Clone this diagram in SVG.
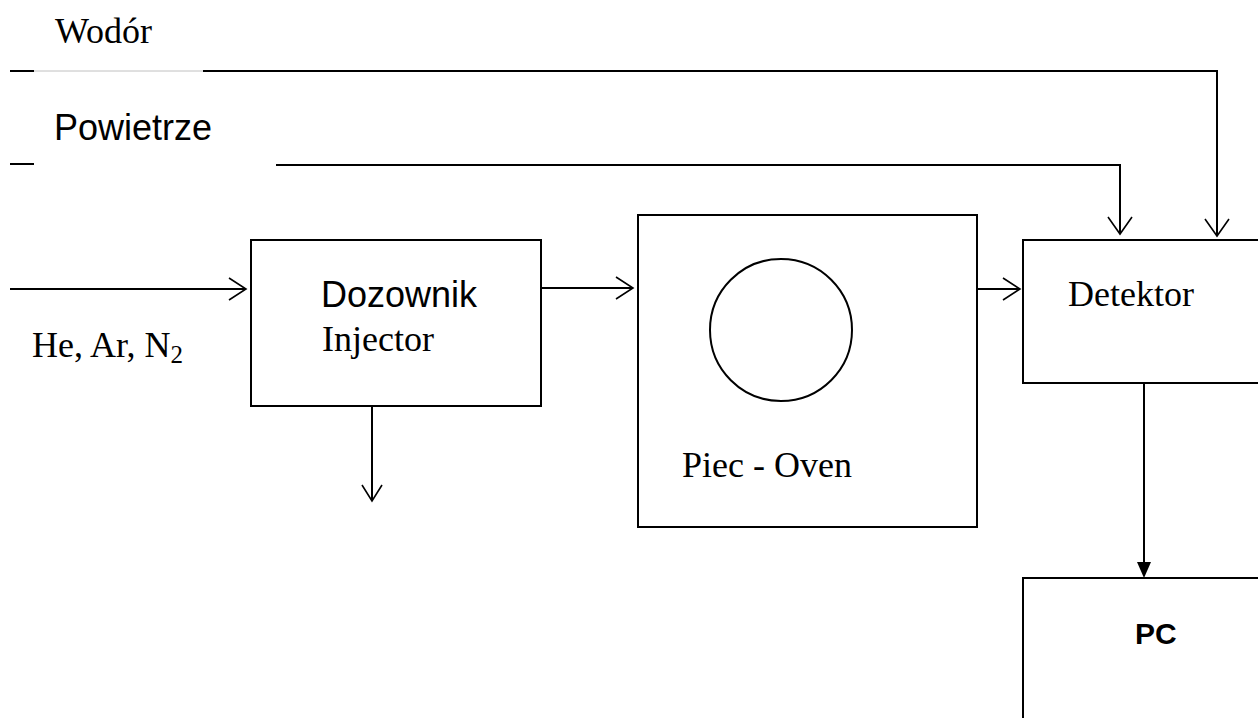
<svg xmlns="http://www.w3.org/2000/svg" width="1258" height="718" viewBox="0 0 1258 718">
<style>
.box{fill:#fff;stroke:#000;stroke-width:2}
.ln{fill:none;stroke:#000;stroke-width:2}
.oh{fill:none;stroke:#000;stroke-width:1.6}
.tr{font-family:"Liberation Serif",serif;font-size:36px;fill:#000}
.ar{font-family:"Liberation Sans",sans-serif;font-size:36px;fill:#000}
</style>
<rect width="1258" height="718" fill="#fff"/>
<g id="labels">
<text class="tr" x="55" y="43">Wodór</text>
<text class="ar" x="54" y="140">Powietrze</text>
<text class="tr" x="32" y="357">He, Ar, N<tspan font-size="25" dy="6">2</tspan></text>
</g>
<g id="connectors">
<line class="ln" x1="10" y1="71" x2="34" y2="71"/>
<line x1="34" y1="71" x2="203" y2="71" stroke="#c0c0c0" stroke-width="1"/>
<polyline class="ln" points="203,71 1217,71 1217,236"/>
<path class="oh" d="M1205,219 L1217,236 L1229,219"/>
<line class="ln" x1="10" y1="164" x2="34" y2="164"/>
<polyline class="ln" points="276,165 1120,165 1120,234"/>
<path class="oh" d="M1108,217 L1120,234 L1132,217"/>
<line class="ln" x1="10" y1="289" x2="246" y2="289"/>
<path class="oh" d="M229,278 L246,289 L229,300"/>
<line class="ln" x1="541" y1="288" x2="633" y2="288"/>
<path class="oh" d="M616,277 L633,288 L616,299"/>
<line class="ln" x1="977" y1="289" x2="1020" y2="289"/>
<path class="oh" d="M1003,278 L1020,289 L1003,300"/>
<line class="ln" x1="372" y1="406" x2="372" y2="501"/>
<path class="oh" d="M362,485 L372,501 L382,485"/>
<line class="ln" x1="1144" y1="383" x2="1144" y2="565"/>
<path d="M1137,562 L1151,562 L1144,578 Z" fill="#000"/>
</g>
<g id="injector">
<rect class="box" x="251" y="240" width="290" height="166"/>
<text class="ar" x="321" y="307" font-size="35">Dozownik</text>
<text class="tr" x="322" y="351" font-size="35">Injector</text>
</g>
<g id="oven">
<rect class="box" x="638" y="215" width="339" height="312"/>
<circle cx="781" cy="330" r="71" fill="none" stroke="#000" stroke-width="2"/>
<text class="tr" x="682" y="477">Piec - Oven</text>
</g>
<g id="detector">
<rect class="box" x="1023" y="240" width="245" height="143"/>
<text class="tr" x="1068" y="306">Detektor</text>
</g>
<g id="pc">
<rect class="box" x="1023" y="578" width="245" height="150"/>
<text x="1135" y="644" font-family="'Liberation Sans',sans-serif" font-weight="bold" font-size="30">PC</text>
</g>
</svg>
